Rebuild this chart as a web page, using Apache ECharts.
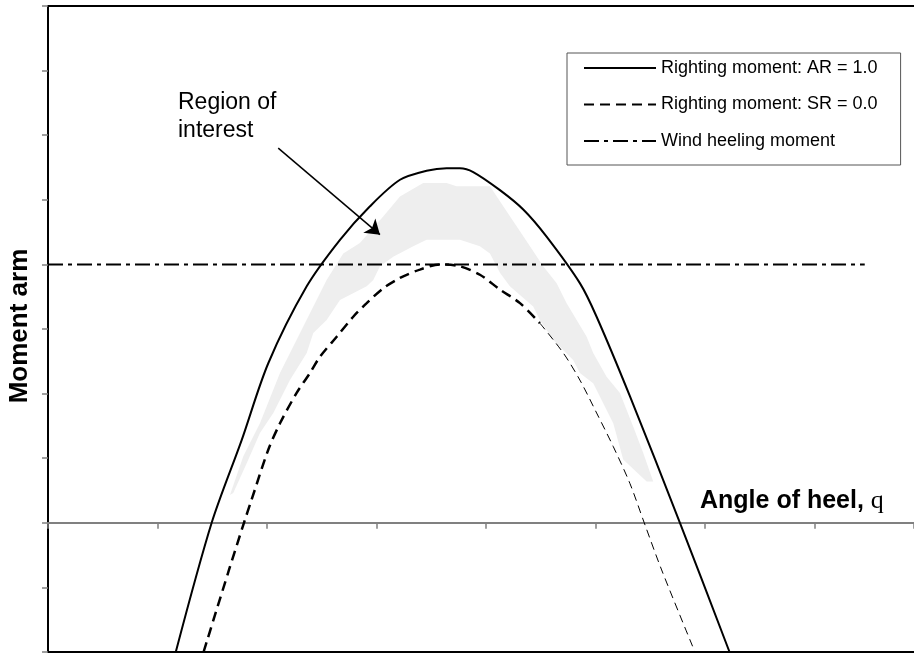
<!DOCTYPE html>
<html>
<head>
<meta charset="utf-8">
<script src="https://cdn.jsdelivr.net/npm/echarts@6/dist/echarts.min.js"></script>
<style>
html,body{margin:0;padding:0;background:#fff;overflow:hidden;}
#chart{width:914px;height:661px;}
</style>
</head>
<body>
<div id="chart"></div>
<script>
// Axis ranges (angle of heel in degrees, moment arm in arbitrary units); the plot runs past the right edge
const xMin = 0, xMax = 79.1, xStep = 10;
const yMin = -2, yMax = 8, yStep = 1;

// Righting moment: AR = 1.0 (solid)
const solidX = [11.67, 14.95, 17.69, 20.12, 23.63, 26.67, 29.41, 32.15, 34.58, 36.41, 37.63, 38.84, 41.28, 43.41, 45.54, 48.58, 50.11, 53.15, 57.72, 62.25];
const solidY = [-2.0, 0, 1.28, 2.47, 3.66, 4.38, 4.90, 5.31, 5.45, 5.49, 5.49, 5.43, 5.15, 4.85, 4.43, 3.71, 3.19, 1.96, 0, -2.0];

// Righting moment: SR = 0.0 (dashed; heavy part then light part)
const dashX = [14.21, 16.53, 17.9, 18.6, 20.12, 21.19, 22.71, 23.93, 24.84, 26.37, 27.88, 29.11, 30.62, 32.15, 33.97, 35.8, 37.63, 39.45, 41.28, 43.11, 44.93];
const dashY = [-2.0, -0.73, 0, 0.36, 1.13, 1.54, 2.01, 2.32, 2.57, 2.88, 3.19, 3.40, 3.63, 3.79, 3.92, 4.0, 3.97, 3.84, 3.61, 3.40, 3.09];
const dashThinX = [44.93, 47.06, 48.58, 50.11, 51.63, 53.15, 54.46, 56.05, 59.09];
const dashThinY = [3.09, 2.63, 2.21, 1.70, 1.18, 0.61, 0, -0.73, -2.0];

// Wind heeling moment (dash-dot)
const windX = [0, 74.6];
const windY = [4, 4];

// Region of interest (outline: upper edge left->right, then lower edge right->left)
const regionX = [16.62, 17.84, 19.36, 21.19, 23.32, 25.45, 26.97, 28.49, 30.62, 32.15, 34.27, 36.41, 37.32, 40.37, 41.58, 44.02, 45.23, 46.46, 47.37, 49.2, 49.8, 51.02, 52.24, 53.45, 54.37, 55.28,
                 54.68, 52.54, 51.63, 49.8, 48.58, 47.97, 46.15, 44.93, 44.32, 42.19, 41.28, 40.37, 39.45, 37.63, 34.58, 33.36, 31.53, 30.32, 29.71, 29.11, 26.67, 25.45, 24.23, 23.63, 22.1, 20.58, 19.36, 18.15, 16.92];
const regionY = [0.43, 1.03, 1.54, 2.32, 3.04, 3.76, 4.17, 4.33, 4.74, 5.05, 5.26, 5.26, 5.21, 5.21, 4.90, 4.28, 3.97, 3.71, 3.40, 2.88, 2.63, 2.26, 2.01, 1.49, 1.08, 0.64,
                 0.64, 0.98, 1.54, 2.16, 2.32, 2.52, 2.83, 3.14, 3.35, 3.66, 3.87, 4.17, 4.28, 4.38, 4.38, 4.28, 4.12, 3.97, 3.76, 3.66, 3.45, 3.14, 2.94, 2.63, 2.21, 1.70, 1.39, 0.92, 0.46];

// Annotation arrow (data coordinates)
const arrowFrom = [21.03, 5.80];
const arrowTo = [30.32, 4.46];

const names = ['Righting moment: AR = 1.0', 'Righting moment: SR = 0.0', 'Wind heeling moment'];

const zip = (xs, ys) => xs.map((x, i) => [x, ys[i]]);

const chart = echarts.init(document.getElementById('chart'), null, {renderer: 'canvas'});
const font = 'Liberation Sans, Arial, sans-serif';

const frameAxis = (position) => ({
  type: 'value', min: xMin, max: xMax, position: position,
  axisLine: {show: true, onZero: false, lineStyle: {color: '#000', width: 2}},
  axisTick: {show: false}, axisLabel: {show: false}, splitLine: {show: false}
});

chart.setOption({
  animation: false,
  backgroundColor: '#fff',
  grid: {left: 48, top: 6, right: 0, bottom: 9, show: false, containLabel: false},
  xAxis: [
    {
      type: 'value', min: xMin, max: xMax, interval: xStep, position: 'bottom',
      axisLine: {show: true, onZero: true, lineStyle: {color: '#808080', width: 2}},
      axisTick: {show: true, inside: false, length: 6, lineStyle: {color: '#808080', width: 1.5}},
      axisLabel: {show: false},
      splitLine: {show: false}
    },
    frameAxis('top'),
    frameAxis('bottom')
  ],
  yAxis: {
    type: 'value', min: yMin, max: yMax, interval: yStep,
    axisLine: {show: true, onZero: false, lineStyle: {color: '#000', width: 2}},
    axisTick: {show: true, inside: false, length: 6, lineStyle: {color: '#808080', width: 1.5}},
    axisLabel: {show: false},
    splitLine: {show: false}
  },
  legend: {
    data: names,
    orient: 'vertical',
    left: 567, top: 53,
    padding: [6, 23, 15, 16],
    itemGap: 18.5,
    itemWidth: 72, itemHeight: 18,
    borderColor: '#555', borderWidth: 1,
    backgroundColor: '#fff',
    selectedMode: false,
    itemStyle: {opacity: 0},
    textStyle: {fontFamily: font, fontSize: 18, color: '#000', lineHeight: 18}
  },
  graphic: [
    {type: 'text', left: 178, top: 89, z: 100, style: {text: 'Region of\ninterest', font: '23px ' + font, fill: '#000', lineHeight: 28}},
    {type: 'text', x: 700, y: 501, z: 100, style: {
      text: '{a|Angle of heel, }{b|q}', verticalAlign: 'middle',
      rich: {a: {font: 'bold 25px ' + font, fill: '#000'}, b: {font: '26px Liberation Serif, Times New Roman, serif', fill: '#000'}}
    }},
    {type: 'text', x: 20, y: 326, rotation: Math.PI / 2, z: 100, style: {
      text: 'Moment arm', font: 'bold 26px ' + font, fill: '#000', align: 'center', verticalAlign: 'middle'
    }}
  ],
  series: [
    {
      type: 'custom', name: 'region', silent: true, z: 1,
      data: [[regionX[0], regionY[0]]],
      encode: {x: 0, y: 1},
      renderItem: function (params, api) {
        const pts = regionX.map((x, i) => api.coord([x, regionY[i]]));
        return {type: 'polygon', shape: {points: pts}, style: {fill: '#eeeeee', stroke: null}};
      }
    },
    {
      type: 'line', name: names[0], data: zip(solidX, solidY), smooth: 0.3, symbol: 'none', z: 5,
      lineStyle: {color: '#000', width: 2, type: 'solid'}, itemStyle: {color: '#000'},
      markLine: {
        silent: true, symbol: ['none', 'arrow'], symbolSize: 14,
        lineStyle: {color: '#000', width: 1.5, type: 'solid'},
        label: {show: false},
        data: [[{coord: arrowFrom}, {coord: arrowTo}]]
      }
    },
    {
      type: 'line', name: names[1], data: zip(dashX, dashY), smooth: 0.3, symbol: 'none', z: 4,
      lineStyle: {color: '#000', width: 2.5, type: [10, 6]}, itemStyle: {color: '#000'}
    },
    {
      type: 'line', name: names[1], data: zip(dashThinX, dashThinY), smooth: 0.3, symbol: 'none', z: 4,
      lineStyle: {color: '#000', width: 1, type: [8, 5]}, itemStyle: {color: '#000'}
    },
    {
      type: 'line', name: names[2], data: zip(windX, windY), symbol: 'none', z: 3,
      lineStyle: {color: '#000', width: 2, type: [15, 5, 4, 5]}, itemStyle: {color: '#000'}
    }
  ]
});
</script>
</body>
</html>
